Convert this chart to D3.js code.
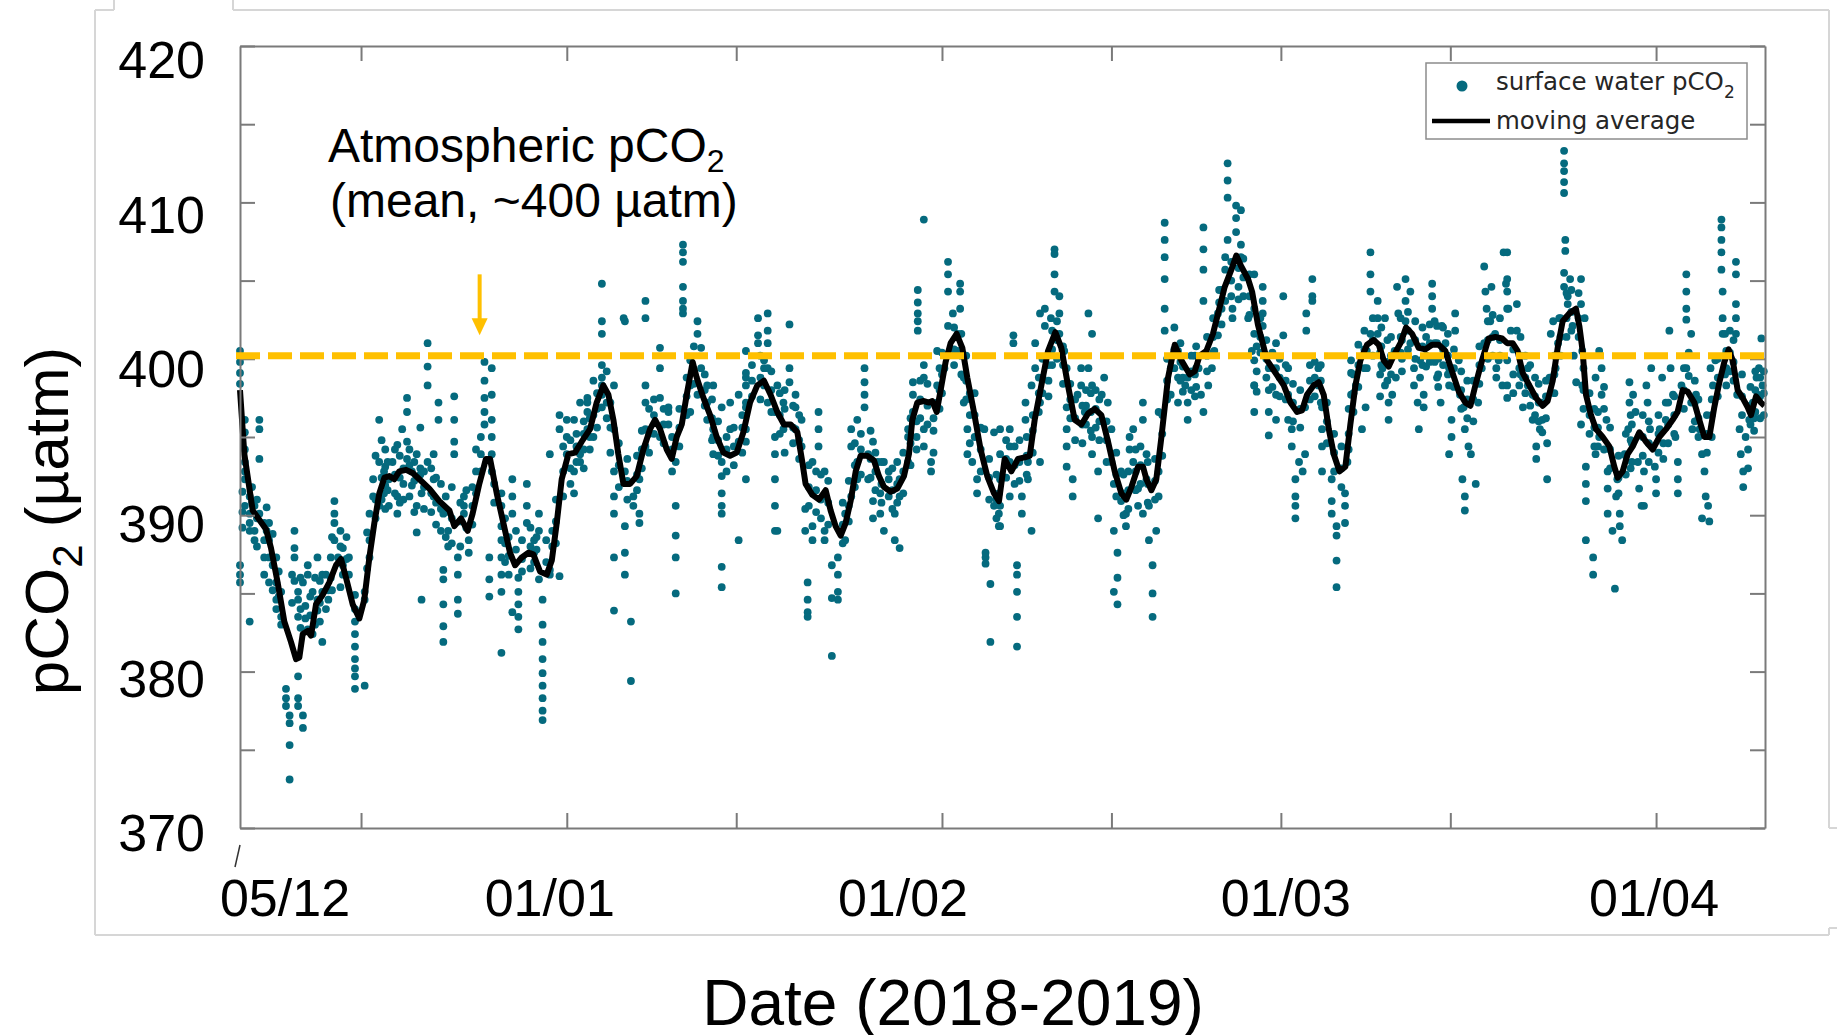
<!DOCTYPE html>
<html lang="en">
<head>
<meta charset="UTF-8" />
<script src="https://d3js.org/d3.v7.min.js"></script>
<style>
  body { margin: 0; background: #ffffff; }
  svg text { font-family: "Liberation Sans", Arial, sans-serif; fill: #000; }
</style>
</head>
<body>
<svg width="1837" height="1035"></svg>
<script>
// ---------- data ----------
var startDate = new Date(2018, 11, 5);
var endDate = new Date(2019, 3, 10);

var yTicks = [370, 375, 380, 385, 390, 395, 400, 405, 410, 415, 420];
var yLabels = [370, 380, 390, 400, 410, 420];

var xTicks = [new Date(2018, 11, 15), new Date(2019, 0, 1), new Date(2019, 0, 15), new Date(2019, 1, 1),
              new Date(2019, 1, 15), new Date(2019, 2, 1), new Date(2019, 2, 15), new Date(2019, 3, 1)];
var xLabels = ["05/12", "01/01", "01/02", "01/03", "01/04"];
var xLabelDates = [new Date(2018, 11, 5), new Date(2019, 0, 1), new Date(2019, 1, 1), new Date(2019, 2, 1), new Date(2019, 3, 1)];

var atmospheric = 400.2;   // mean atmospheric pCO2 (µatm)

// moving average: [days since 05/12, µatm]
var movingAverage = [
  [0,398.0],[0.36,393.9],[1.05,390.3],[2.15,389.1],[2.56,387.9],[3.11,385.7],[3.66,383.2],[4.21,381.9],[4.63,380.8],[4.9,380.9],
  [5.18,382.4],[5.59,382.6],[5.87,382.3],[6.28,384.3],[6.83,384.9],[7.38,385.7],[7.93,386.8],[8.35,387.2],[8.76,386.0],[9.31,384.3],
  [9.86,383.4],[10.27,384.6],[10.69,387.3],[11.1,389.5],[11.51,391.4],[11.93,392.4],[12.34,392.5],[12.75,392.3],[13.16,392.8],[13.72,392.9],
  [14.27,392.7],[14.82,392.3],[15.64,391.7],[16.47,390.9],[17.3,390.3],[17.71,389.3],[18.26,389.8],[18.81,389.0],[19.22,390.1],[19.77,392.0],
  [20.32,393.6],[20.66,393.6],[21.21,391.4],[21.76,389.5],[22.31,387.6],[22.73,386.8],[23.28,387.3],[23.83,387.6],[24.24,387.5],[24.79,386.4],
  [25.34,386.2],[25.76,387.1],[26.17,389.5],[26.58,392.3],[27.13,393.9],[27.68,394.0],[28.23,394.7],[28.92,395.5],[29.47,397.2],[30.02,398.3],
  [30.44,397.7],[30.85,396.1],[31.26,393.9],[31.68,392.0],[32.23,392.0],[32.78,392.5],[33.33,394.2],[33.88,395.5],[34.29,396.1],[34.71,395.5],
  [35.26,394.2],[35.67,393.6],[36.08,395.0],[36.5,395.8],[36.91,397.7],[37.4,399.8],[37.73,398.8],[38.29,397.5],[38.84,396.4],[39.39,395.0],
  [39.94,394.0],[40.49,393.8],[41.04,394.0],[41.59,395.3],[42.14,397.2],[42.74,398.3],[43.29,398.6],[43.84,397.7],[44.39,396.6],[44.94,395.8],
  [45.5,395.8],[46.05,395.3],[46.46,393.4],[46.73,392.0],[47.29,391.3],[47.84,391.0],[48.39,391.6],[48.8,390.3],[49.21,389.3],[49.63,388.7],
  [50.04,389.5],[50.45,390.9],[50.87,392.8],[51.28,393.8],[51.83,393.8],[52.38,393.5],[52.79,392.5],[53.21,391.8],[53.76,391.5],[54.31,391.7],
  [54.86,392.5],[55.27,393.9],[55.55,396.1],[55.96,397.2],[56.51,397.3],[56.93,397.2],[57.2,397.3],[57.56,396.6],[57.89,398.0],[58.3,399.8],
  [58.71,401.0],[59.21,401.6],[59.68,400.7],[60.09,398.8],[60.64,396.6],[61.19,394.2],[61.74,392.5],[62.3,391.4],[62.71,390.9],[63.18,393.6],
  [63.73,392.8],[64.28,393.6],[64.83,393.7],[65.25,393.8],[65.66,396.1],[66.21,398.3],[66.76,400.5],[67.37,401.7],[67.86,400.7],[68.41,398.3],
  [68.96,396.1],[69.52,395.8],[70.07,396.5],[70.62,396.8],[71.17,396.4],[71.72,394.7],[72.27,392.8],[72.82,391.4],[73.23,391.0],[73.65,391.8],
  [74.2,393.1],[74.61,393.1],[74.89,392.3],[75.3,391.6],[75.71,392.3],[76.13,395.0],[76.68,398.8],[77.23,400.9],[77.78,399.9],[78.47,399.0],
  [78.88,399.2],[79.29,400.2],[79.84,400.5],[80.39,401.6],[80.81,402.9],[81.36,404.6],[81.91,405.7],[82.32,406.6],[82.73,405.9],[83.29,405.1],
  [83.62,404.3],[84.1,402.2],[84.86,399.9],[85.55,399.1],[86.24,398.3],[86.79,397.2],[87.34,396.6],[87.75,396.7],[88.16,397.7],[88.71,398.3],
  [89.13,398.5],[89.54,397.7],[89.96,395.5],[90.37,393.9],[90.84,392.8],[91.33,393.1],[91.74,395.8],[92.16,398.3],[92.57,399.9],[93.12,400.9],
  [93.67,401.2],[94.09,400.9],[94.5,399.9],[94.91,399.5],[95.32,400.2],[95.88,401.0],[96.34,402.0],[96.84,401.6],[97.39,400.7],[97.94,400.6],
  [98.49,400.9],[99.04,400.9],[99.59,400.5],[100.14,399.2],[100.7,397.9],[101.25,397.2],[101.66,397.0],[102.07,398.3],[102.62,399.9],[103.17,401.3],
  [103.72,401.4],[104.28,401.3],[104.69,401.0],[105.15,401.0],[105.56,400.5],[105.98,399.1],[106.53,398.3],[107.08,397.5],[107.63,397.0],[108.04,397.3],
  [108.46,398.6],[108.87,400.7],[109.28,402.4],[109.83,402.9],[110.38,403.2],[110.66,402.1],[110.93,400.5],[111.21,397.7],[111.62,396.4],[112.04,395.5],
  [112.59,395.0],[113.14,394.4],[113.55,393.1],[113.83,392.4],[114.24,392.8],[114.65,393.9],[115.07,394.4],[115.62,395.3],[116.17,394.7],[116.72,394.2],
  [117.27,395.0],[117.82,395.5],[118.37,396.1],[118.78,396.6],[119.2,398.0],[119.61,397.9],[120.16,397.2],[120.57,396.1],[120.99,395.0],[121.4,395.0],
  [121.81,396.9],[122.23,398.5],[122.64,399.8],[123.0,400.6],[123.33,399.9],[123.74,398.0],[124.15,397.5],[124.57,396.9],[124.84,396.4],[125.26,397.6],
  [125.67,397.2],[125.95,397.0]
];

// surface water pCO2 observations: [days since 05/12, [µatm, ...]]
var observations = [
  [0.0,[400.5,399.8,399.1,398.4,386.8,386.2,385.7]],[0.4,[396.1,395.3,394.2,393.4,392.8,392.3,390.6]],
  [0.8,[389.5,390.1,389.0,391.2,383.2]],[1.2,[388.4,389.0,390.6]],[1.6,[396.1,395.5,393.6,390.1]],
  [2.0,[388.4,387.3,386.2,389.5]],[2.4,[389.5,388.4,387.3,385.7]],[3.0,[387.3,385.7,384.6,384.0]],
  [3.4,[383.5,383.0,385.1]],[3.8,[378.9,378.3,377.8]],[4.1,[377.2,376.7,375.3,373.1]],
  [4.5,[389.0,387.9,387.3,385.8]],[4.8,[379.7,378.3,377.8,385.1,384.6,383.5]],[5.2,[377.2,376.4,385.7]],
  [5.6,[386.8,386.2,382.7]],[6.0,[385.1,382.4]],[6.4,[384.6,383.9,387.3]],[6.8,[386.2,385.1,381.9]],
  [7.1,[384.0,386.2]],[7.5,[387.3,386.0]],[7.8,[388.4,390.1,390.9,389.5]],[8.1,[387.3]],
  [8.5,[386.8,387.9,386.2]],[9.0,[387.3,386.2]],[9.5,[384.9,384.0,383.2,382.4,381.6,380.8,380.2,379.7,378.9]],
  [10.3,[379.1,384.6,385.1]],[10.7,[387.3,388.4,390.1]],[11.0,[391.2,392.3]],[11.5,[393.4,396.1,390.6]],
  [11.9,[392.8,391.4]],[12.0,[394.2,393.1,391.9,390.4]],[12.3,[390.6,392.3]],[12.6,[393.4]],
  [13.0,[391.2,390.1,394.5]],[13.4,[395.5]],[13.5,[393.0,392.0,391.0]],[13.8,[397.5,396.6,394.7,393.6]],
  [14.2,[392.8,391.9]],[14.6,[393.9,390.6,388.9]],[14.9,[395.6,393.0,392.6]],[15.0,[391.4,384.6]],
  [15.5,[393.4,398.3,401.0,399.5]],[16.0,[392.3,391.2,393.9]],[16.4,[397.2,396.1]],
  [16.8,[390.1,386.5,385.9,384.3,382.9,381.9]],[17.2,[388.0,389.0]],[17.7,[397.6,396.1,394.7,393.9]],
  [18.0,[387.3,386.2,384.6,383.7]],[18.5,[390.1,391.2,390.6]],[18.9,[388.4,387.6]],
  [19.9,[392.8,393.9,395.0]],[20.2,[395.8,396.6,397.5,398.6,399.8]],[20.6,[387.3,385.9,384.8]],
  [20.8,[399.4,397.7,396.1,395.0,393.9,392.8]],[21.6,[391.4,390.6,389.3,388.4,387.3,386.2,385.1,381.2]],
  [22.5,[383.8,392.3,391.2,390.1]],[23.0,[386.0,385.1,384.3,383.5,382.7]],[23.7,[390.6,392.0,389.5]],
  [24.3,[388.4,387.6,387.0]],[24.7,[390.1,389.0,385.9]],
  [25.0,[384.6,383.0,381.9,380.8,379.9,379.1,378.3,377.5,376.9]],[25.6,[386.5,393.9,386.2]],
  [26.4,[386.1,395.5,396.4]],[27.0,[396.1,395.0,393.9]],[27.3,[394.8,393.0,392.0]],[27.6,[392.8,396.1,391.4]],
  [28.1,[393.4,393.9,397.2]],[28.4,[396.0,395.2,394.2,393.0]],[28.7,[397.5,396.6,395.5,397.2]],
  [29.2,[398.6,396.4,395.0]],[29.9,[398.3,399.6,401.6,402.4,404.8,398.8,397.7,396.9]],
  [30.9,[395.5,392.8,391.2,387.3,383.9,390.1,398.3]],[31.7,[402.6]],[31.8,[402.4,392.8,389.3,387.6,386.2]],
  [32.3,[383.2,379.4]],[32.5,[391.2,390.6]],[33.0,[392.3,390.1,389.5]],[33.5,[403.7,402.6,398.3,395.5,394.4,397.2]],
  [34.7,[400.7,399.4,397.5,395.0]],[35.4,[395.8,396.6,396.9]],[36.0,[393.4,390.6,388.7,387.3,385.0]],
  [36.6,[407.3,406.8,406.2,404.6,403.7,403.2,402.9]],[37.2,[399.9,398.3,396.6]],[37.8,[397.7,402.4,401.6]],
  [38.1,[400.7,399.4]],[38.6,[398.3,397.2,396.1]],[39.1,[395.5,395.0,393.9,398.3]],
  [39.8,[393.4,392.5,391.4,390.6,390.1,386.7,385.4,396.9]],[40.5,[397.2,395.5]],[41.2,[388.4,394.7,397.7]],
  [41.8,[398.8,396.9,392.3,399.1,398.3,397.2,395.5,394.7,400.5]],[42.8,[402.6,401.5,401.0]],
  [43.3,[399.4,399.9,398.3]],[43.6,[402.9,401.8,401.0,399.4,397.2]],[44.2,[396.6,395.0,393.9,392.3,390.6,389.0]],
  [44.4,[389.0,398.3]],[44.9,[397.2,395.5]],[45.0,[398.0,396.8,394.0]],[45.4,[402.2,399.4,398.5]],
  [45.9,[397.7,396.9,395.5]],[46.4,[394.4,396.1]],[46.7,[390.4,389.0]],[46.9,[385.7,384.6,383.8,383.5]],
  [47.3,[389.3,388.4,393.4]],[47.8,[396.6,395.5,394.4]],[48.3,[392.8,391.2,389.0,388.4]],[48.9,[386.8,384.7,381.0]],
  [49.4,[385.1,387.3,386.2,384.6]],[50.0,[388.4,390.1]],[50.5,[391.2,395.5,394.4]],[51.0,[393.4,392.3,396.1]],
  [51.6,[399.4,398.5,397.7,396.9]],[51.9,[393.9,392.3]],[52.3,[390.9,389.8,394.7]],[52.7,[393.4]],
  [52.9,[391.4,390.1]],[53.2,[389.0,393.4]],[53.6,[392.8,391.2,392.3]],[54.1,[390.1,388.4]],
  [54.5,[391.2,392.3,387.9]],[55.2,[393.4,395.0,395.5]],[55.6,[397.7,398.5,396.6]],[55.9,[396.0,395.0,394.2]],
  [56.0,[404.4,403.6,402.9,402.4,401.8]],[56.5,[399.6,398.8,395.5,394.4,408.9]],[57.1,[393.4,392.8]],
  [57.3,[396.2,395.4,394.0]],[57.6,[400.5,398.3,397.2]],[58.2,[399.4]],[58.5,[402.1,404.3,405.4,406.2]],
  [58.9,[402.9]],[59.3,[401.6,400.5]],[59.5,[404.8,404.3,403.2]],[59.8,[398.8,397.2]],[60.1,[395.5,393.9]],
  [60.3,[397.8,396.4,394.6]],[60.5,[393.4]],[60.9,[392.3,391.4]],[61.5,[395.5]],[61.6,[387.3,387.6,386.9]],
  [62.0,[385.6,381.9]],[62.3,[390.6,395.3]],[62.7,[390.1,389.3,391.4]],
  [62.8,[395.5,393.9,392.3,390.6,389.3]],[63.6,[395.5,394.4,393.4,391.2]],[63.9,[401.5,401.0]],
  [64.2,[386.8,386.2,385.1,383.5,381.6]],[64.6,[391.2,390.1]],[64.9,[397.2,396.1]],[65.1,[393.4,392.3]],
  [65.4,[389.0,398.3]],[65.7,[399.4,401.0]],[66.1,[402.9,397.2,393.4]],[66.5,[403.2,402.1]],
  [66.8,[399.6,398.6,397.6]],[67.0,[402.6]],[67.3,[404.3,405.4,407.0,406.7]],[67.7,[404.0,402.9,401.6]],
  [68.1,[400.5]],[68.3,[399.4,396.9,395.5,394.4,393.1]],[68.8,[392.3,391.2]],[69.2,[397.7]],
  [69.5,[399.4,398.3]],[69.8,[396.6]],[69.9,[398.0,397.0,395.8]],[70.1,[402.9,399.4]],
  [70.4,[401.6,398.3,395.0,393.9]],[70.9,[392.8,389.8]],[71.2,[397.7]],[71.4,[398.8]],[71.7,[397.2]],
  [72.0,[395.5,393.4]],[72.2,[392.0,389.0,385.1]],[72.5,[387.6,386.0,384.3]],[72.8,[392.8,390.9]],
  [73.2,[390.1,389.3]],[73.5,[394.2,395.0]],[73.8,[395.5,393.4]],[74.2,[391.7,390.6]],
  [74.6,[390.1,397.2,396.1]],[74.9,[393.9,392.3]],[75.1,[390.6,388.4]],[75.4,[386.8,385.0,383.5]],
  [75.7,[389.0]],[75.9,[391.2,392.8,396.6]],[76.4,[401.8,403.2,405.1,406.5,407.6,408.7]],
  [76.9,[399.4,397.7]],[77.5,[397.2,398.8,400.5]],[77.9,[399.5,398.8,397.9]],[78.1,[398.3]],
  [78.3,[397.2,396.1,398.8]],[78.9,[400.2,399.0,397.6]],[79.2,[399.4]],[79.4,[397.7]],
  [79.6,[403.7,405.7,407.0,408.4,396.6]],[80.0,[398.3]],[80.3,[399.4]],[80.5,[400.5]],
  [80.8,[402.9,401.5]],[80.9,[404.4,403.6]],[81.4,[403.7,405.7,406.5]],[81.6,[407.6,410.3,411.4,412.5]],
  [82.0,[403.2,402.6]],[82.3,[409.8,409.0,408.1]],[82.5,[404.6,403.8,405.8]],[82.7,[409.5,407.3,406.5]],
  [83.3,[402.6]],[83.6,[400.5]],[83.8,[398.3,396.6,405.4,403.2,401.6,399.9,398.3]],
  [84.0,[400.8,399.2,397.9]],[84.5,[403.7,404.6,402.9,402.1]],[85.0,[399.4,398.0,396.6,395.1]],
  [85.6,[401.0,399.4,397.7,396.1]],[86.2,[404.0,401.5]],[86.6,[399.4,397.7,396.1]],[86.9,[395.5,394.4]],
  [87.2,[392.3,391.2,390.6,389.8]],[87.5,[393.4]],[87.8,[392.8]],[88.0,[393.9,396.9]],[88.1,[401.8,402.9]],
  [88.4,[399.6,398.6,397.4]],[88.6,[403.7,405.1,404.0]],[89.1,[399.4,398.3]],[89.4,[396.9,395.5,394.4,392.8]],
  [90.2,[392.3,390.9,390.1]],[90.6,[389.3,388.7,387.1,385.4]],[91.3,[391.4,390.6,389.5]],[91.5,[393.4]],
  [91.8,[397.7,399.1,399.9]],[92.2,[398.3]],[92.4,[400.9,399.6,398.2]],[92.7,[395.5]],[93.0,[396.9]],
  [93.1,[399.4,400.5]],[93.4,[401.6,404.3,406.8,405.4]],[94.0,[403.7,402.6,401.6]],[94.2,[399.0,397.6,400.4]],
  [94.4,[399.4]],[94.6,[398.3,402.6]],[94.9,[397.2,396.1]],[95.2,[397.7]],[95.4,[400.5]],[95.5,[398.8]],
  [95.6,[404.6]],[95.7,[402.9]],[96.0,[401.2,400.0,399.2]],[96.3,[405.1,403.7,402.4]],[96.7,[401.0,404.3]],
  [97.0,[399.4,398.3]],[97.3,[397.2]],[97.4,[395.5]],[97.5,[399.9,398.8]],[97.8,[397.7,396.9]],
  [98.0,[401.4,400.2,399.5]],[98.5,[404.8,404.0,403.2]],[98.9,[402.1,401.0,398.8]],[99.0,[400.0,399.0,398.2]],
  [99.2,[397.2]],[99.3,[402.1]],[99.6,[401.0]],[99.9,[399.4,398.3,393.9]],[100.1,[396.1,395.0]],
  [100.4,[402.9,401.8]],[100.7,[399.9]],[100.8,[397.7]],[101.0,[392.3]],[101.1,[396.9]],
  [101.2,[395.5,391.2,390.3]],[101.5,[394.4]],[101.7,[393.9]],[102.1,[392.0]],[102.3,[397.2]],
  [102.6,[399.4]],[102.8,[401.0,405.9]],[102.9,[404.3]],[103.0,[403.2]],[103.3,[402.4]],[103.4,[404.6]],
  [103.7,[401.6]],[103.8,[399.4,398.8]],[104.0,[399.9]],[104.3,[398.3]],[104.4,[406.8]],[104.6,[404.8]],
  [104.7,[406.8,405.1,404.3,403.2,399.9,398.3,397.5]],[104.8,[403.2]],[105.0,[401.8]],
  [105.2,[400.6,399.0,397.8]],[105.5,[401.8,403.5]],[105.7,[399.4,398.3]],[106.0,[398.8,396.9]],
  [106.4,[398.3,399.4]],[106.6,[399.6,397.0]],[106.8,[397.7,396.1]],[107.1,[394.4,393.6]],[107.4,[395.5]],
  [107.5,[397.2]],[107.6,[396.1,395.3]],[108.0,[394.6,392.3]],[108.2,[398.8]],[108.3,[401.6]],
  [108.5,[402.4]],[108.7,[399.4]],[108.9,[401.0]],[109.0,[402.6]],
  [109.4,[413.3,412.5,412.0,411.3,410.6,405.5,404.6]],[109.5,[407.6,406.9]],[109.7,[404.0,403.5]],
  [109.9,[405.1]],[110.1,[402.1]],[110.2,[400.2]],[110.4,[398.5]],[110.8,[403.5,405.1,395.8]],
  [110.9,[400.5,398.3]],[111.1,[402.6]],[111.2,[393.1,392.0,390.9,388.4]],[111.8,[387.3,386.2]],
  [112.0,[398.8,393.9]],[112.3,[400.5,395.0]],[112.5,[399.4,397.7]],[112.7,[398.2,396.8,394.2]],
  [112.9,[396.1]],[113.0,[392.8,391.7,390.1]],[113.4,[389.0]],[113.6,[385.3]],[113.7,[391.2]],
  [113.8,[392.3]],[114.0,[390.1,389.3]],[114.2,[388.4]],[114.4,[393.9]],[114.7,[395.5]],
  [114.8,[397.2,398.5]],[114.9,[396.4,394.8,393.0]],[115.1,[397.7]],[115.3,[396.6]],[115.5,[393.4]],
  [115.6,[391.7]],[115.8,[390.6]],[116.0,[390.6,392.8]],[116.2,[398.3]],[116.3,[397.2]],[116.5,[395.5]],
  [116.6,[399.4]],[116.7,[394.4]],[116.9,[393.1]],[117.0,[392.3,391.4]],[117.3,[395.5]],[117.5,[398.8]],
  [117.6,[394.6,393.6]],[117.8,[397.2,396.1]],[118.1,[401.8]],[118.2,[399.4]],[118.4,[397.7]],
  [118.6,[395.0]],[118.8,[393.4,392.3,391.4]],[119.1,[398.3]],[119.5,[405.4,404.3,403.2,402.5,399.4]],
  [119.7,[400.4,398.9]],[119.9,[401.6,397.2]],[120.0,[395.5]],[120.3,[397.7]],[120.6,[395.5]],
  [120.8,[393.9,389.8]],[121.0,[392.8]],[121.1,[391.2]],[121.3,[390.6]],[121.4,[389.6]],[121.5,[399.4]],
  [121.7,[398.3]],[121.9,[399.9]],[122.4,[408.9,408.4,407.6,406.8,405.7]],[122.5,[404.3,402.6,401.6]],
  [122.8,[400.5,399.4,398.3]],[123.6,[406.2,405.4,403.5,402.6,401.6]],[123.7,[397.7]],[123.9,[395.5]],
  [124.0,[393.9]],[124.2,[392.8,391.8]],[124.4,[395.0]],[124.6,[394.2,393.0]],[124.7,[396.1]],
  [125.0,[397.2]],[125.1,[396.2,395.4]],[125.3,[398.8]],[125.4,[397.7]],[125.5,[399.4]],[125.7,[401.3]],
  [125.8,[398.3]],
  // dense core of the cloud
  [0.2,[391.5,390.2,389.2]],[1.0,[391.8,390.8]],[1.4,[391.0,389.8,388.0]],[2.2,[390.5,389.0]],
  [2.7,[388.8,386.8,385.2]],[3.2,[386.4,384.8]],[4.3,[386.2,384.4]],[5.0,[386.0,384.0,382.8]],
  [5.4,[384.2,383.4]],[5.8,[384.8,383.6]],[6.2,[386.0,383.0]],[6.6,[385.8,384.4,383.2]],[7.3,[385.2,384.6]],
  [7.6,[388.6,385.2]],[8.3,[389.0,388.0,385.4]],[8.8,[388.6,387.2]],[10.5,[388.9,386.6]],
  [11.2,[393.8,391.0,389.8]],[11.7,[394.8,392.4,391.0]],[12.2,[393.4,391.6]],[12.8,[394.2,392.6,391.4]],
  [13.2,[393.8,392.4,390.8]],[14.0,[394.2,393.2,391.2]],[14.4,[393.4,392.2,390.2]],[15.2,[392.8,391.8,390.4]],
  [15.8,[393.0,391.4,390.2]],[16.2,[392.4,390.8,389.4]],[16.6,[392.0,390.4,389.0]],[17.0,[391.2,390.2,388.6]],
  [17.5,[391.8,389.8,388.2]],[18.2,[390.8,389.6,388.0]],[18.7,[391.6,389.2]],[19.2,[391.8,390.6,389.4]],
  [19.5,[394.2,392.8,391.4]],[21.0,[392.0,390.8]],[21.9,[389.8,388.2,387.0]],[22.2,[388.6,387.4,386.2]],
  [22.8,[389.0,387.8]],[23.3,[388.4,387.2,386.4]],[24.0,[389.2,388.0,386.6]],[24.5,[388.6,387.8]],
  [25.3,[388.4,387.0]],[25.8,[389.0,388.0]],[26.1,[391.0,389.6,388.2]],[26.7,[394.4,392.8,391.2]],
  [27.8,[395.2,394.4,393.4]],[28.9,[396.2,395.0,394.2]],[29.5,[397.8,396.8,395.6]],[30.3,[399.2,397.2,396.2]],
  [30.6,[397.2,395.6,394.0]],[31.3,[394.6,393.2,391.8]],[32.0,[393.6,392.2,391.0]],[32.8,[393.8,392.6,391.6]],
  [33.2,[395.4,394.2,393.0]],[33.8,[396.8,395.2,394.0]],[34.2,[397.4,396.4,395.2]],[35.0,[396.8,395.8,394.6]],
  [35.7,[395.0,394.2,392.8]],[36.3,[396.8,395.6,394.4]],[36.9,[398.8,397.6,396.4]],[37.5,[400.8,399.2,398.4]],
  [38.4,[399.0,398.0,397.0]],[39.0,[397.4,396.2,394.8]],[39.5,[396.0,394.8,393.8]],[40.2,[395.0,394.2,392.8]],
  [40.8,[395.6,394.4,393.2]],[41.5,[396.4,395.6,394.0]],[42.3,[399.6,398.6,397.6]],[43.0,[400.2,398.8,397.4]],
  [43.9,[399.2,398.0,396.6]],[44.6,[397.8,396.4,395.2]],[45.7,[397.0,395.6,394.6]],[46.2,[396.4,394.8,393.6]],
  [47.0,[393.2,391.8,390.6]],[47.6,[392.8,391.6,390.2]],[48.0,[392.6,391.0,389.8]],[48.6,[392.2,390.8,389.4]],
  [49.8,[390.8,389.4,388.2]],[50.3,[392.2,390.6,389.6]],[50.8,[394.6,393.2,391.8]],[51.3,[395.2,394.2,392.6]],
  [52.1,[395.4,393.6,392.4]],[52.5,[394.0,392.8,391.6]],[53.0,[393.4,392.0,390.8]],[53.9,[393.0,391.6,390.4]],
  [54.3,[393.4,392.0,390.8]],[54.8,[394.0,392.8,391.4]],[55.4,[396.2,394.6,393.2]],[56.2,[398.6,397.4,396.2]],
  [56.8,[398.4,397.0,395.8]],[57.8,[399.4,398.0,396.8]],[58.0,[400.4,399.0,397.8]],[59.0,[402.0,400.6,399.6]],
  [59.6,[401.6,400.2,399.0]],[60.0,[400.2,398.6,397.4]],[60.7,[397.8,396.4,395.0]],[61.2,[395.6,394.2,392.8]],
  [61.9,[393.6,392.4,391.0]],[62.5,[392.6,391.0,389.8]],[63.3,[394.8,393.6,392.4]],[64.0,[394.4,393.2,392.0]],
  [64.4,[394.8,393.4,392.2]],[65.0,[395.0,393.8,392.6]],[65.5,[396.4,395.4,394.0]],[66.0,[398.8,397.8,396.6]],
  [66.3,[400.0,398.8,397.8]],[67.1,[401.8,400.6,399.6]],[67.5,[402.4,401.2,400.0]],[68.0,[400.8,399.6,398.4]],
  [68.6,[398.4,397.4,396.2]],[69.0,[397.4,396.2,394.8]],[69.6,[397.0,395.8,394.6]],[70.3,[397.8,396.6,395.4]],
  [70.7,[398.0,396.8,395.6]],[71.0,[397.4,396.0,394.8]],[71.6,[396.0,394.8,393.4]],[72.4,[394.0,392.6,391.2]],
  [73.0,[392.6,391.4,390.0]],[73.4,[392.8,391.6,390.4]],[74.0,[394.2,392.8,391.6]],[74.4,[394.4,393.2,392.0]],
  [75.0,[393.4,392.0,390.8]],[75.6,[393.6,392.2,391.0]],[76.2,[396.4,395.2,393.8]],[76.6,[400.0,398.6,397.4]],
  [77.2,[402.0,400.6,399.4]],[77.7,[401.0,399.8,398.6]],[78.6,[400.2,399.2,398.0]],[79.0,[400.8,399.4,398.2]],
  [79.9,[401.4,400.2,399.2]],[80.4,[402.6,401.4,400.4]],[81.1,[404.4,403.2,402.2]],[81.9,[406.2,405.0,404.0]],
  [82.9,[406.4,405.2,404.0]],[83.4,[405.4,404.0,402.8]],[84.3,[402.6,401.4,400.4]],[84.8,[401.2,400.0,398.8]],
  [85.3,[400.4,399.4,398.2]],[85.9,[400.0,398.8,397.6]],[86.4,[399.6,398.6,397.4]],[87.0,[398.4,397.2,396.0]],
  [87.6,[398.0,396.8,395.6]],[88.8,[399.8,398.8,397.6]],[89.3,[399.6,398.6,397.2]],[89.8,[397.2,396.0,394.6]],
  [90.4,[395.2,394.0,392.8]],[91.0,[394.4,393.0,391.8]],[91.6,[396.8,395.2,394.2]],[92.0,[399.0,397.8,396.6]],
  [92.9,[401.8,400.6,399.4]],[93.6,[402.6,401.2,400.2]],[94.3,[402.0,400.8,399.6]],[94.8,[401.2,399.8,398.6]],
  [95.1,[401.4,400.2,399.0]],[95.9,[402.6,401.4,400.4]],[96.5,[403.0,401.8,400.6]],[97.1,[402.4,401.2,400.0]],
  [97.7,[402.0,400.8,399.6]],[98.3,[402.2,401.0,399.8]],[98.7,[402.4,401.0,399.8]],[99.4,[402.0,400.6,399.6]],
  [99.8,[401.6,400.2,399.0]],[100.3,[400.6,399.4,398.2]],[100.9,[399.2,398.0,396.8]],[101.4,[398.6,397.4,396.2]],
  [101.9,[398.6,397.4,396.0]],[102.4,[400.8,399.6,398.4]],[103.1,[402.4,401.2,400.0]],[103.5,[402.8,401.4,400.2]],
  [104.1,[402.6,401.2,400.2]],[105.8,[401.4,400.2,399.0]],[106.2,[400.2,398.8,397.8]],[107.0,[398.8,397.6,396.4]],
  [107.3,[398.4,397.2,396.0]],[107.9,[398.6,397.6,396.2]],[108.6,[400.2,399.0,397.8]],[109.1,[402.6,401.4,400.2]],
  [109.6,[404.2,402.6,401.4]],[110.0,[404.4,403.0,401.8]],[110.6,[404.2,402.6,401.4]],[111.0,[399.4,398.0,396.8]],
  [111.5,[397.8,396.4,395.2]],[111.9,[396.8,395.6,394.4]],[112.2,[396.6,395.6,394.4]],[113.2,[395.6,394.2,393.0]],
  [113.9,[393.8,392.4,391.4]],[114.5,[395.2,393.8,392.6]],[115.0,[395.8,394.6,393.4]],[115.9,[396.4,395.0,393.8]],
  [116.4,[396.0,394.6,393.4]],[117.2,[396.4,395.2,394.0]],[118.0,[397.2,395.8,394.6]],[118.5,[397.6,396.4,395.2]],
  [119.3,[399.4,398.0,396.8]],[120.2,[398.6,397.2,396.0]],[120.5,[397.4,396.2,395.0]],[121.2,[396.4,395.2,394.0]],
  [121.6,[397.4,396.4,395.0]],[122.1,[400.0,398.8,397.6]],[122.7,[401.6,400.2,399.0]],[123.1,[401.8,400.4,399.2]],
  [123.4,[401.2,399.8,398.6]],[124.1,[399.0,397.6,396.4]],[124.8,[398.2,397.0,395.8]],[125.2,[399.2,398.0,396.6]],
  [125.6,[398.8,397.6,396.2]],[125.9,[399.2,397.8,396.4]]
];

// ---------- layout ----------
var svg = d3.select("svg");
var plotLeft = 240, plotRight = 1765, plotTop = 46, plotBottom = 828;
var teal = "#056a7e", gold = "#FFC000", axisGrey = "#7a7a7a";
var xLabelShift = [45, -17, -39, 5, -2];

var x = d3.scaleTime().domain([startDate, endDate]).range([plotLeft, plotRight]);
var y = d3.scaleLinear().domain([370, 420]).range([plotBottom, plotTop]);
function dayToDate(d) { return new Date(startDate.getTime() + d * 864e5); }

svg.append("rect").attr("width", 1837).attr("height", 1035).attr("fill", "#fff");

// light frame of the pasted figure
var frame = [[114,0,114,10],[95,10,114,10],[233,0,233,10],[233,10,1829,10],[95,10,95,935],
             [95,935,1829,935],[1829,10,1829,828],[1829,828,1837,828],[1829,928,1829,935],[1829,928,1837,928]];
svg.selectAll("line.frame").data(frame).enter().append("line")
  .attr("class", "frame")
  .attr("x1", function(d) { return d[0]; }).attr("y1", function(d) { return d[1]; })
  .attr("x2", function(d) { return d[2]; }).attr("y2", function(d) { return d[3]; })
  .attr("stroke", "#d6d6d6").attr("stroke-width", 2);

// scatter
var points = [];
observations.forEach(function(o) {
  o[1].forEach(function(v) { points.push([o[0], v]); });
});
svg.append("g").selectAll("circle").data(points).enter().append("circle")
  .attr("cx", function(d) { return x(dayToDate(d[0])); })
  .attr("cy", function(d) { return y(d[1]); })
  .attr("r", 3.9)
  .attr("fill", teal);

// moving average
var line = d3.line()
  .x(function(d) { return x(dayToDate(d[0])); })
  .y(function(d) { return y(d[1]); });
svg.append("path").datum(movingAverage)
  .attr("d", line)
  .attr("fill", "none")
  .attr("stroke", "#000")
  .attr("stroke-width", 6)
  .attr("stroke-linejoin", "round");

// axes box with inward ticks
function styleAxis(g) {
  g.selectAll("path, line").attr("stroke", axisGrey).attr("stroke-width", 2);
  g.selectAll("text").remove();
}
svg.append("g").attr("transform", "translate(0," + plotBottom + ")")
  .call(d3.axisBottom(x).tickValues(xTicks).tickSize(-15).tickSizeOuter(0)).call(styleAxis);
svg.append("g").attr("transform", "translate(0," + plotTop + ")")
  .call(d3.axisTop(x).tickValues(xTicks).tickSize(-15).tickSizeOuter(0)).call(styleAxis);
svg.append("g").attr("transform", "translate(" + plotLeft + ",0)")
  .call(d3.axisLeft(y).tickValues(yTicks).tickSize(-15).tickSizeOuter(0)).call(styleAxis);
svg.append("g").attr("transform", "translate(" + plotRight + ",0)")
  .call(d3.axisRight(y).tickValues(yTicks).tickSize(-15).tickSizeOuter(0)).call(styleAxis);

// atmospheric mean (dashed)
svg.append("line")
  .attr("x1", x(startDate) - 4).attr("x2", x(endDate))
  .attr("y1", y(atmospheric)).attr("y2", y(atmospheric))
  .attr("stroke", gold).attr("stroke-width", 7)
  .attr("stroke-dasharray", "24 8");

// tick labels
svg.selectAll("text.ylab").data(yLabels).enter().append("text")
  .attr("class", "ylab")
  .attr("x", 205)
  .attr("y", function(d) { return y(d) + 5 + (d - 370) * 0.18; })
  .attr("dy", "0.35em")
  .attr("text-anchor", "end")
  .style("font-size", "52px")
  .text(function(d) { return d; });

svg.selectAll("text.xlab").data(xLabels).enter().append("text")
  .attr("class", "xlab")
  .attr("x", function(d, i) { return x(xLabelDates[i]) + xLabelShift[i]; })
  .attr("y", 916)
  .attr("text-anchor", "middle")
  .style("font-size", "52px")
  .text(function(d) { return d; });

svg.append("line").attr("x1", 240).attr("y1", 845).attr("x2", 235).attr("y2", 867)
  .attr("stroke", "#333").attr("stroke-width", 1.5);

// axis titles
svg.append("text").attr("x", 953).attr("y", 1025).attr("text-anchor", "middle")
  .style("font-size", "64px").text("Date (2018-2019)");

var yt = svg.append("text").attr("transform", "translate(68,521) rotate(-90)")
  .attr("text-anchor", "middle").style("font-size", "62px");
yt.append("tspan").text("pCO");
yt.append("tspan").attr("dy", 14).style("font-size", "42px").text("2");
yt.append("tspan").attr("dy", -14).text(" (µatm)");

// annotation
var ann = svg.append("text").attr("x", 328).attr("y", 162).style("font-size", "48px");
ann.append("tspan").text("Atmospheric pCO");
ann.append("tspan").attr("dy", 10).style("font-size", "32px").text("2");
svg.append("text").attr("x", 330).attr("y", 217).style("font-size", "48px").text("(mean, ~400 µatm)");

var arrowX = x(dayToDate(19.8));
svg.append("line").attr("x1", arrowX).attr("x2", arrowX)
  .attr("y1", y(405.4)).attr("y2", y(402.3))
  .attr("stroke", gold).attr("stroke-width", 4);
svg.append("path")
  .attr("d", "M" + (arrowX - 8) + "," + y(402.6) + "L" + (arrowX + 8) + "," + y(402.6) + "L" + arrowX + "," + y(401.5) + "Z")
  .attr("fill", gold);

// legend
var lg = svg.append("g");
lg.append("rect").attr("x", 1426).attr("y", 63).attr("width", 321).attr("height", 76)
  .attr("fill", "#fff").attr("stroke", "#8c8c8c").attr("stroke-width", 1.5);
lg.append("circle").attr("cx", 1462).attr("cy", 86).attr("r", 5.5).attr("fill", teal);
lg.append("line").attr("x1", 1432).attr("x2", 1490).attr("y1", 121).attr("y2", 121)
  .attr("stroke", "#000").attr("stroke-width", 4.5);
var l1 = lg.append("text").attr("x", 1496).attr("y", 90)
  .style("font-family", "'DejaVu Sans', sans-serif").style("font-size", "24.5px").style("fill", "#262626");
l1.append("tspan").text("surface water pCO");
l1.append("tspan").attr("dy", 8).style("font-size", "17px").text("2");
lg.append("text").attr("x", 1496).attr("y", 129)
  .style("font-family", "'DejaVu Sans', sans-serif").style("font-size", "24.5px").style("fill", "#262626")
  .text("moving average");
</script>
</body>
</html>
